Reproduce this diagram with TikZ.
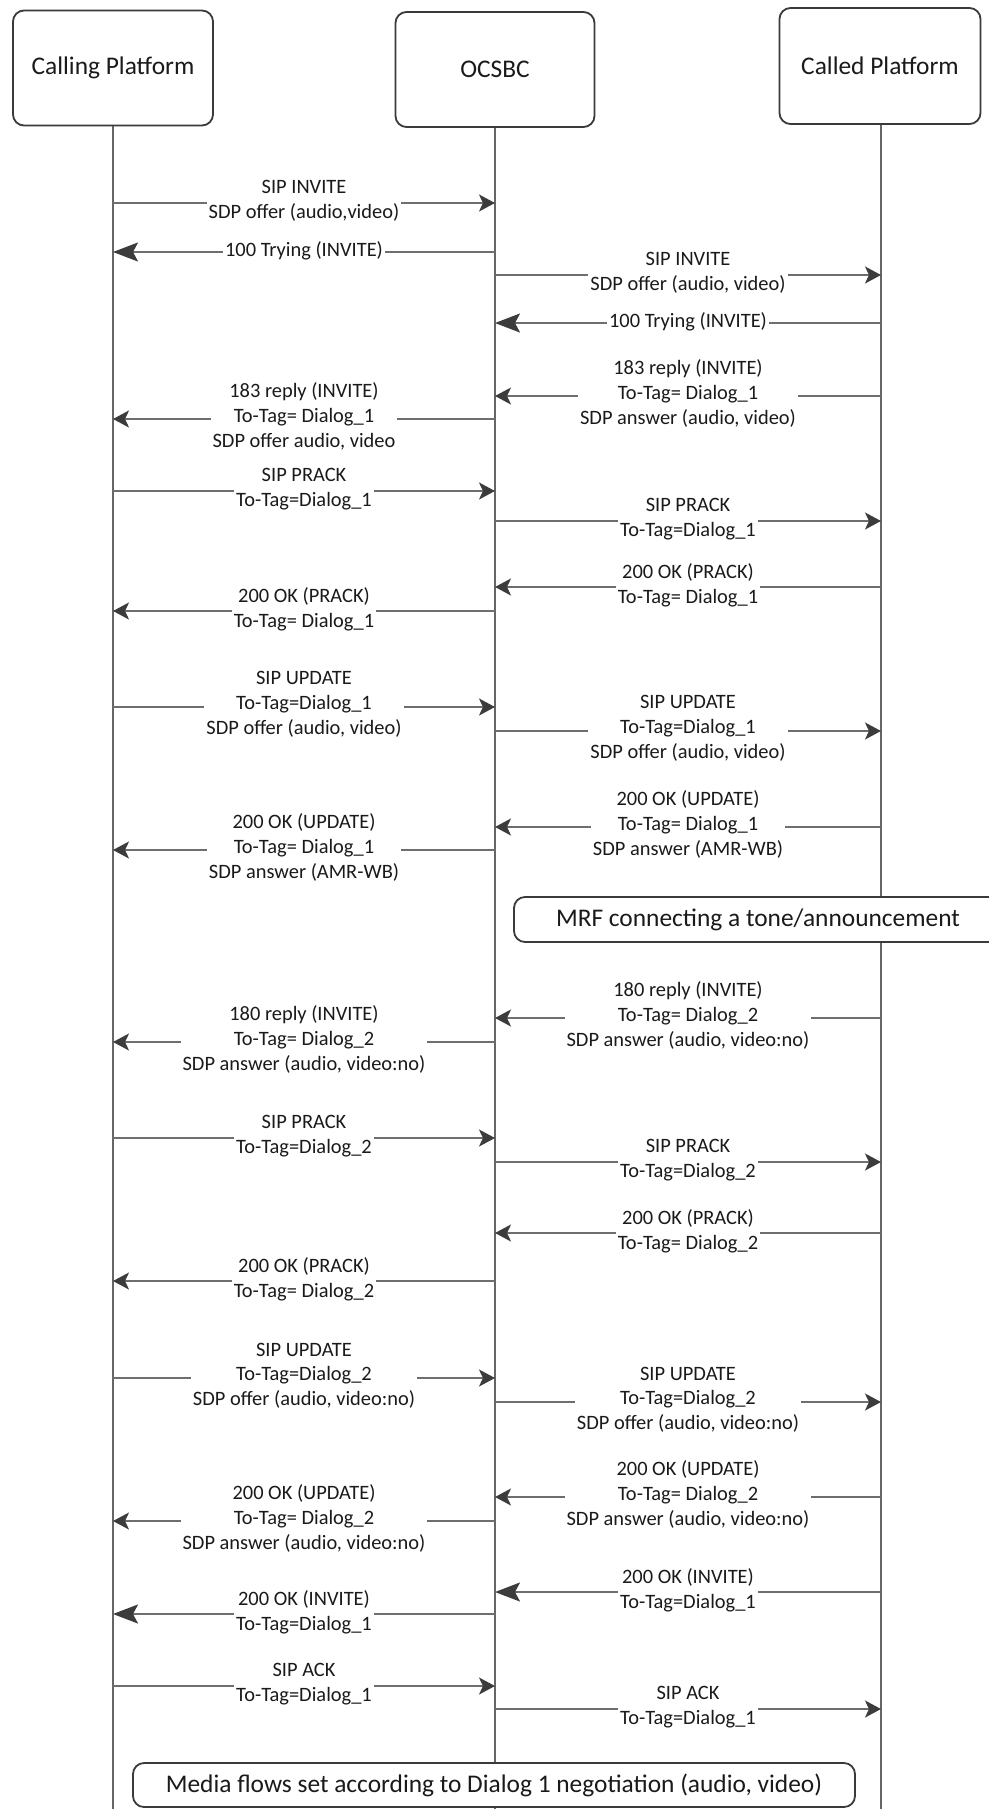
\documentclass[tikz,border=0pt]{standalone}
\usepackage{fontspec}
\setmainfont{Carlito}
\usetikzlibrary{arrows.meta}
\definecolor{linec}{HTML}{6E6E6E}
\definecolor{headc}{HTML}{3C3C3C}
\definecolor{lifec}{HTML}{666666}
\definecolor{boxc}{HTML}{3A3A3A}
\definecolor{txtc}{HTML}{1A1A1A}
\newcommand\sipmsg[6]{%
  \coordinate (#1a) at (#2,#4);
  \coordinate (#1b) at (#3,#4);
  \draw[#5] (#1a) -- (#1b) node[lbl,midway] (#1t) {#6};
}
\begin{document}
\begin{tikzpicture}[x=1bp,y=-1bp,
  life/.style={draw=lifec,line width=1.5bp},
  actor/.style={draw=boxc,line width=1.8bp,rounded corners=11bp,fill=white,
     text=txtc,font=\fontsize{25.5}{30}\selectfont},
  note/.style={draw=boxc,line width=1.8bp,rounded corners=11bp,fill=white,
     text=txtc,font=\fontsize{25.5}{30}\selectfont},
  msg/.style={draw=linec,line width=1.8bp,
     -{Stealth[length=16bp,width=17bp,inset=4bp,color=headc]}},
  big/.style={draw=linec,line width=2.2bp,
     -{Stealth[length=25bp,width=19bp,inset=5bp,color=headc]}},
  lbl/.style={fill=white,align=center,inner xsep=2bp,inner ysep=0bp,
     text=txtc,font=\fontsize{20.5}{25}\selectfont,
     execute at begin node=\strut,execute at end node=\strut},
]
\useasboundingbox (0,0) rectangle (988,1809);
% lifelines
\coordinate (Lbot) at (113,1809);
\coordinate (Mbot) at (495,1809);
\coordinate (Rbot) at (881,1809);
\coordinate (Ltop) at (113,120);
\coordinate (Mtop) at (495,120);
\coordinate (Rtop) at (881,120);
\draw[life] (Ltop) -- (Lbot);
\draw[life] (Mtop) -- (Mbot);
\draw[life] (Rtop) -- (Rbot);
% actors
\node[actor,minimum width=200bp,minimum height=115bp] (calling) at (113,68) {Calling Platform};
\node[actor,minimum width=199bp,minimum height=115bp] (ocsbc) at (495,69.5) {OCSBC};
\node[actor,minimum width=201bp,minimum height=116bp] (called) at (880,66) {Called Platform};
% messages
\sipmsg{m1}{113}{495}{203}{msg}{SIP INVITE\\SDP offer (audio,video)}
\sipmsg{m2}{495}{113}{252}{big}{100 Trying (INVITE)}
\sipmsg{m3}{495}{881}{275}{msg}{SIP INVITE\\SDP offer (audio, video)}
\sipmsg{m4}{881}{495}{323}{big}{100 Trying (INVITE)}
\sipmsg{m5}{881}{495}{396}{msg}{183 reply (INVITE)\\To-Tag= Dialog\_1\\SDP answer (audio, video)}
\sipmsg{m6}{495}{113}{419}{msg}{183 reply (INVITE)\\To-Tag= Dialog\_1\\SDP offer audio, video}
\sipmsg{m7}{113}{495}{491}{msg}{SIP PRACK\\To-Tag=Dialog\_1}
\sipmsg{m8}{495}{881}{521}{msg}{SIP PRACK\\To-Tag=Dialog\_1}
\sipmsg{m9}{881}{495}{587}{msg}{200 OK (PRACK)\\To-Tag= Dialog\_1}
\sipmsg{m10}{495}{113}{611}{msg}{200 OK (PRACK)\\To-Tag= Dialog\_1}
\sipmsg{m11}{113}{495}{707}{msg}{SIP UPDATE\\To-Tag=Dialog\_1\\SDP offer (audio, video)}
\sipmsg{m12}{495}{881}{731}{msg}{SIP UPDATE\\To-Tag=Dialog\_1\\SDP offer (audio, video)}
\sipmsg{m13}{881}{495}{827}{msg}{200 OK (UPDATE)\\To-Tag= Dialog\_1\\SDP answer (AMR-WB)}
\sipmsg{m14}{495}{113}{850}{msg}{200 OK (UPDATE)\\To-Tag= Dialog\_1\\SDP answer (AMR-WB)}
\node[note,minimum width=488bp,minimum height=45bp] (mrf) at (758,919.5) {MRF connecting a tone/announcement};
\sipmsg{m15}{881}{495}{1018}{msg}{180 reply (INVITE)\\To-Tag= Dialog\_2\\SDP answer (audio, video:no)}
\sipmsg{m16}{495}{113}{1042}{msg}{180 reply (INVITE)\\To-Tag= Dialog\_2\\SDP answer (audio, video:no)}
\sipmsg{m17}{113}{495}{1138}{msg}{SIP PRACK\\To-Tag=Dialog\_2}
\sipmsg{m18}{495}{881}{1162}{msg}{SIP PRACK\\To-Tag=Dialog\_2}
\sipmsg{m19}{881}{495}{1233}{msg}{200 OK (PRACK)\\To-Tag= Dialog\_2}
\sipmsg{m20}{495}{113}{1281}{msg}{200 OK (PRACK)\\To-Tag= Dialog\_2}
\sipmsg{m21}{113}{495}{1378}{msg}{SIP UPDATE\\To-Tag=Dialog\_2\\SDP offer (audio, video:no)}
\sipmsg{m22}{495}{881}{1402}{msg}{SIP UPDATE\\To-Tag=Dialog\_2\\SDP offer (audio, video:no)}
\sipmsg{m23}{881}{495}{1497}{msg}{200 OK (UPDATE)\\To-Tag= Dialog\_2\\SDP answer (audio, video:no)}
\sipmsg{m24}{495}{113}{1521}{msg}{200 OK (UPDATE)\\To-Tag= Dialog\_2\\SDP answer (audio, video:no)}
\sipmsg{m25}{881}{495}{1592}{big}{200 OK (INVITE)\\To-Tag=Dialog\_1}
\sipmsg{m26}{495}{113}{1614}{big}{200 OK (INVITE)\\To-Tag=Dialog\_1}
\sipmsg{m27}{113}{495}{1686}{msg}{SIP ACK\\To-Tag=Dialog\_1}
\sipmsg{m28}{495}{881}{1709}{msg}{SIP ACK\\To-Tag=Dialog\_1}
\node[note,minimum width=722bp,minimum height=44bp] (media) at (494,1785) {Media flows set according to Dialog 1 negotiation (audio, video)};
\end{tikzpicture}
\end{document}
